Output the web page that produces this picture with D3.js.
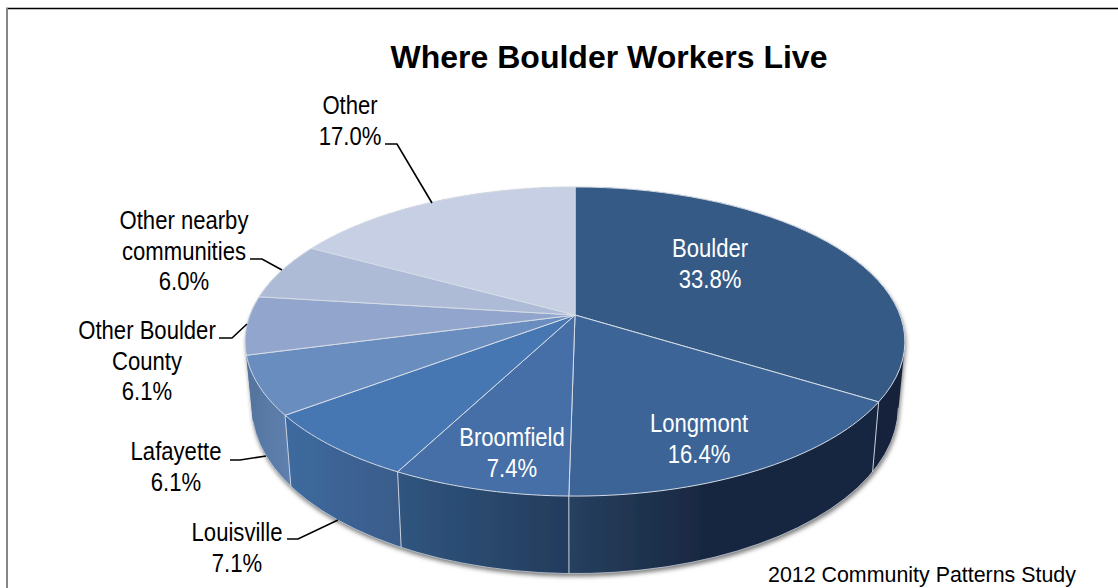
<!DOCTYPE html>
<html><head><meta charset="utf-8">
<script src="https://cdn.jsdelivr.net/npm/d3@7"></script>
<style>html,body{margin:0;padding:0;background:#fff;overflow:hidden}svg{display:block}text{font-family:"Liberation Sans",Arial,sans-serif}</style>
</head><body><svg id="c" width="1118" height="588"></svg>
<script>
const categories=["Boulder","Longmont","Broomfield","Louisville","Lafayette","Other Boulder County","Other nearby communities","Other"];
const values=[33.8,16.4,7.4,7.1,6.1,6.1,6.0,17.0];
const topColors=["#355a85","#3c6496","#456fa6","#4777b2","#6a8dbf","#92a5cc","#adbbd6","#c6cfe3"];
const sideFrom=["#14233a","#182740","#30557f","#3d6a9f","#54759f","#54759f","#54759f","#54759f"];
const sideTo=["#14233a","#26405f","#233c5c","#3a5c8a","#5f80ae","#54759f","#54759f","#54759f"];
const title="Where Boulder Workers Live";
const source="2012 Community Patterns Study";
// label layout: text lines, anchor x, first-line baseline, fill
const labelLines=[["Boulder","33.8%"],["Longmont","16.4%"],["Broomfield","7.4%"],["Louisville","7.1%"],["Lafayette","6.1%"],["Other Boulder","County","6.1%"],["Other nearby","communities","6.0%"],["Other","17.0%"]];
const labelX=[710,699,512,237,176,147,184,350];
const labelY=[257,432,446,541,460,339,229,114];
const leaders=[null,null,null,[[287,539],[298,539],[338,520]],[[230,460],[240,460],[266,456]],[[219,338],[232,338],[247,324]],[[250,259],[262,259],[282,270]],[[385,144],[397,144],[432,203]]];

const svg=d3.select("#c");
const defs=svg.append("defs");
const f=defs.append("filter").attr("id","sh").attr("x","-10%").attr("y","-10%").attr("width","120%").attr("height","120%");
f.append("feDropShadow").attr("dx",1).attr("dy",3).attr("stdDeviation",2).attr("flood-color","#000").attr("flood-opacity",.5);

// frame
svg.append("line").attr("x1",6).attr("x2",1118).attr("y1",8.5).attr("y2",8.5).attr("stroke","#000").attr("stroke-width",1.4);
svg.append("line").attr("x1",7).attr("x2",7).attr("y1",8).attr("y2",588).attr("stroke","#868686").attr("stroke-width",2);

// perspective disc projection
const cx=575,k=0.1716;
const disc=(a,b,cy)=>t=>{const u=Math.sin(t),v=-Math.cos(t),w=1-k*v;return [cx+a*u/w,cy+b*v/w];};
const topP=disc(325,150,315), botP=disc(318.5,162,378);
const arcs=d3.pie().sort(null).value(d=>d).startAngle(0).endAngle(2*Math.PI)(values);
const line=d3.line();
const samples=(s,e)=>d3.range(0,41).map(i=>s+(e-s)*i/40);

// side wall: hull of each slice's top and bottom arcs, the top face hides the rest
const side=svg.append("g").attr("filter","url(#sh)");
arcs.forEach((d,i)=>{
  const ts=samples(d.startAngle,d.endAngle);
  const all=ts.map(topP).concat(ts.map(botP));
  const xs=all.map(p=>p[0]);
  const g=defs.append("linearGradient").attr("id","sg"+i).attr("gradientUnits","userSpaceOnUse")
    .attr("x1",d3.min(xs)).attr("x2",d3.max(xs)).attr("y1",0).attr("y2",0);
  const rev=i<2;
  g.append("stop").attr("offset",0).attr("stop-color",rev?sideTo[i]:sideFrom[i]);
  if(rev)g.append("stop").attr("offset",.45).attr("stop-color",sideFrom[i]);
  g.append("stop").attr("offset",1).attr("stop-color",rev?sideFrom[i]:sideTo[i]);
  side.append("path").attr("d",line(d3.polygonHull(all))+"Z").attr("fill",`url(#sg${i})`);
});
// side seams, drawn where the wall is visible
arcs.slice(0,4).forEach(d=>{
  const a=topP(d.endAngle),b=botP(d.endAngle);
  svg.append("line").attr("x1",a[0]).attr("y1",a[1]).attr("x2",b[0]).attr("y2",b[1]).attr("stroke","#c9d2de").attr("stroke-width",1);
});
// bottom rim highlight
svg.append("path").attr("d",line(samples(arcs[0].startAngle+1.75,arcs[4].endAngle).map(botP))).attr("fill","none").attr("stroke","#c4ccd6").attr("stroke-width",.8);

// top face
arcs.forEach((d,i)=>{
  const pts=[[cx,315]].concat(samples(d.startAngle,d.endAngle).map(topP));
  svg.append("path").attr("d",line(pts)+"Z").attr("fill",topColors[i]).attr("stroke","#d5dce6").attr("stroke-width",1).attr("stroke-linejoin","round");
});

// leaders
leaders.forEach(l=>{if(l)svg.append("path").attr("d",line(l)).attr("fill","none").attr("stroke","#000").attr("stroke-width",1.6);});

// labels
labelLines.forEach((ls,i)=>{
  const g=svg.append("g").attr("transform",`translate(${labelX[i]},${labelY[i]}) scale(.85,1)`);
  ls.forEach((s,j)=>g.append("text").attr("y",j*30.7).attr("text-anchor","middle").attr("font-size",26).attr("fill",i<3?"#fff":"#000").text(s));
});
svg.append("text").attr("x",609).attr("y",68).attr("text-anchor","middle").attr("font-size",32).attr("font-weight","bold").attr("fill","#000").text(title);
svg.append("text").attr("x",768).attr("y",582).attr("font-size",21.4).attr("fill","#000").text(source);
</script></body></html>
